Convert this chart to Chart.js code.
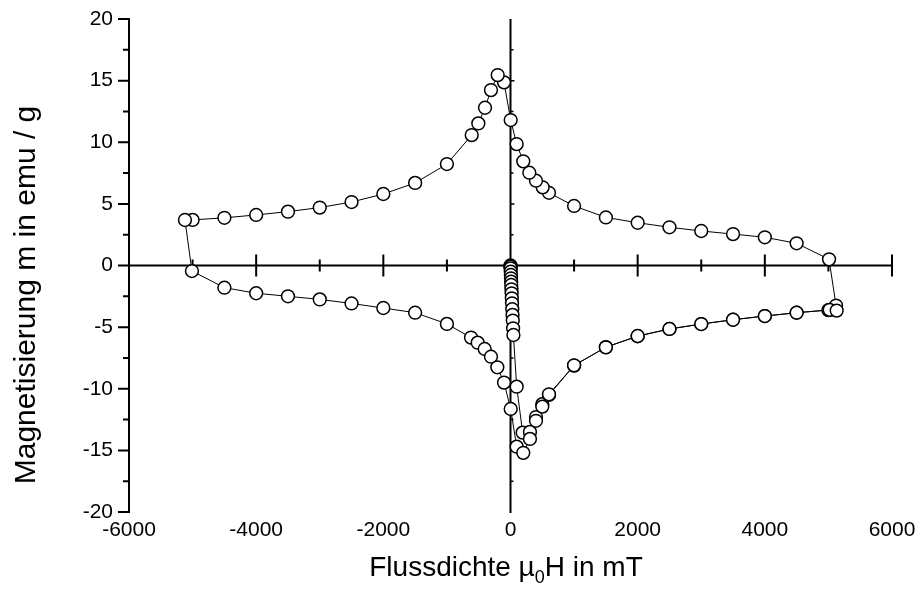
<!DOCTYPE html>
<html>
<head>
<meta charset="utf-8">
<script src="https://cdn.jsdelivr.net/npm/chart.js@4.4.1/dist/chart.umd.min.js"></script>
<style>
  html, body { margin: 0; padding: 0; background: #fff; }
  #wrap { width: 920px; height: 590px; position: relative; }
</style>
</head>
<body>
<div id="wrap"><canvas id="loopChart"></canvas></div>
<script>
// Neukurve (virgin curve), field in mT, moment in emu/g
const virginField = [0, 0, 1, 2, 4, 6, 8, 10, 12, 15, 18, 21, 24, 28, 32, 36, 41, 46,
  97, 191, 306, 401, 500, 605, 1000, 1500, 2000, 2500, 3000, 3500, 4000, 4500, 5000, 5120];
const virginMoment = [0, -0.05, -0.1, -0.23, -0.5, -0.77, -1.04, -1.31, -1.58, -1.93, -2.26, -2.66, -3.07, -3.55, -4.01, -4.47, -5.1, -5.64,
  -9.83, -13.56, -13.5, -12.3, -11.25, -10.5, -8.12, -6.62, -5.74, -5.15, -4.75, -4.4, -4.1, -3.83, -3.62, -3.25];

// Ast 5 T -> -5 T
const downField = [5010, 4500, 4000, 3500, 3000, 2500, 2000, 1500, 1000, 605, 506, 401, 296, 201, 97, 3,
  -102, -201, -307, -401, -506, -610, -1000, -1500, -2000, -2500, -3000, -3500, -4000, -4500, -5000, -5120];
const downMoment = [0.5, 1.8, 2.29, 2.55, 2.8, 3.1, 3.47, 3.9, 4.83, 5.9, 6.34, 6.88, 7.53, 8.45, 9.85, 11.8,
  14.86, 15.45, 14.23, 12.8, 11.53, 10.58, 8.23, 6.7, 5.8, 5.15, 4.7, 4.37, 4.1, 3.87, 3.7, 3.69];

// Ast -5 T -> 5 T
const upField = [-5010, -4500, -4000, -3500, -3000, -2500, -2000, -1500, -1000, -621, -516, -406, -307, -207, -102, 3,
  97, 201, 306, 401, 500, 605, 1000, 1500, 2000, 2500, 3000, 3500, 4000, 4500, 5020, 5130];
const upMoment = [-0.45, -1.8, -2.25, -2.5, -2.75, -3.08, -3.45, -3.83, -4.74, -5.85, -6.26, -6.77, -7.4, -8.26, -9.5, -11.64,
  -14.7, -15.2, -14.07, -12.6, -11.45, -10.45, -8.1, -6.64, -5.72, -5.15, -4.75, -4.4, -4.1, -3.83, -3.6, -3.66];

const xTicks = [-6000, -4000, -2000, 0, 2000, 4000, 6000];
const yTicks = [-20, -15, -10, -5, 0, 5, 10, 15, 20];

const FONT = '"Liberation Sans", Arial, sans-serif';

function toPoints(xs, ys) {
  return xs.map((v, i) => ({ x: v, y: ys[i] }));
}
const loopPoints = toPoints(virginField, virginMoment)
  .concat(toPoints(downField, downMoment))
  .concat(toPoints(upField, upMoment));

// axes like in the Origin plot: left axis plus cross through the origin
const axesPlugin = {
  id: "crossAxes",
  beforeDatasetsDraw(chart) {
    const ctx = chart.ctx;
    const xs = chart.scales.x, ys = chart.scales.y;
    const left = xs.getPixelForValue(-6000), right = xs.getPixelForValue(6000);
    const top = ys.getPixelForValue(20), bottom = ys.getPixelForValue(-20);
    const x0 = xs.getPixelForValue(0), y0 = ys.getPixelForValue(0);

    ctx.save();
    ctx.strokeStyle = "#000";
    ctx.lineWidth = 2;
    ctx.beginPath();
    // left axis
    ctx.moveTo(left, top - 1); ctx.lineTo(left, bottom + 1);
    // horizontal line at m = 0
    ctx.moveTo(left, y0); ctx.lineTo(right + 1, y0);
    // vertical line at H = 0
    ctx.moveTo(x0, top); ctx.lineTo(x0, bottom + 1);

    // ticks on left axis
    for (let v = -20; v <= 20; v += 2.5) {
      const py = ys.getPixelForValue(v);
      const len = (v % 5 === 0) ? 11 : 6;
      ctx.moveTo(left - len, py); ctx.lineTo(left, py);
    }
    // ticks across the horizontal zero line
    for (let v = -5000; v <= 6000; v += 1000) {
      if (v === 0) continue;
      const px = xs.getPixelForValue(v);
      const len = (v % 2000 === 0) ? 11 : 6;
      ctx.moveTo(px, y0 - len); ctx.lineTo(px, y0 + len);
    }
    ctx.stroke();

    // small ticks on the vertical zero line
    ctx.lineWidth = 1.5;
    ctx.beginPath();
    for (let v = -17.5; v <= 17.5; v += 2.5) {
      if (v === 0) continue;
      const py = ys.getPixelForValue(v);
      const len = (v % 5 === 0) ? 4 : 3;
      ctx.moveTo(x0, py); ctx.lineTo(x0 + len, py);
    }
    ctx.stroke();
    ctx.restore();
  },
  afterDraw(chart) {
    const ctx = chart.ctx;
    ctx.save();
    ctx.fillStyle = "#000";
    ctx.textBaseline = "middle";

    // x title with subscript
    const big = "28px " + FONT, small = "18px " + FONT;
    const partA = "Flussdichte \u00B5", sub = "0", partB = "H in mT";
    ctx.font = big;
    const wA = ctx.measureText(partA).width, wB = ctx.measureText(partB).width;
    ctx.font = small;
    const wS = ctx.measureText(sub).width;
    let tx = 506 - (wA + wS + wB) / 2;
    const ty = 568;
    ctx.textAlign = "left";
    ctx.font = big;
    ctx.fillText(partA, tx, ty);
    tx += wA;
    ctx.font = small;
    ctx.fillText(sub, tx, ty + 10);
    tx += wS;
    ctx.font = big;
    ctx.fillText(partB, tx, ty);

    // y title
    ctx.translate(27, 295);
    ctx.rotate(-Math.PI / 2);
    ctx.textAlign = "center";
    ctx.font = "30px " + FONT;
    ctx.fillText("Magnetisierung m in emu / g", 0, 0);
    ctx.restore();
  }
};

const chart = new Chart(document.getElementById("loopChart"), {
  type: "scatter",
  data: {
    datasets: [{
      data: loopPoints,
      showLine: true,
      borderColor: "#000",
      borderWidth: 1,
      pointRadius: 6.4,
      pointBackgroundColor: "#fff",
      pointBorderColor: "#000",
      pointBorderWidth: 1.5,
      tension: 0
    }]
  },
  options: {
    responsive: true,
    maintainAspectRatio: false,
    animation: false,
    layout: { autoPadding: false, padding: { top: 19, right: 28, left: 0, bottom: 0 } },
    plugins: {
      legend: { display: false },
      tooltip: { enabled: false }
    },
    scales: {
      x: {
        type: "linear",
        min: -6000,
        max: 6000,
        afterFit(scale) {
          scale.height = 78;
          scale.paddingLeft = 0; scale.paddingRight = 0;
        },
        afterBuildTicks(scale) { scale.ticks = xTicks.map(v => ({ value: v })); },
        grid: { display: false, drawTicks: false },
        border: { display: false },
        ticks: {
          color: "#000",
          padding: 6,
          maxRotation: 0,
          callback: v => String(v),
          font: { family: FONT, size: 21 }
        }
      },
      y: {
        type: "linear",
        min: -20,
        max: 20,
        afterFit(scale) {
          scale.width = 129;
          scale.paddingTop = 0; scale.paddingBottom = 0;
        },
        afterBuildTicks(scale) { scale.ticks = yTicks.map(v => ({ value: v })); },
        grid: { display: false, drawTicks: false },
        border: { display: false },
        ticks: {
          color: "#000",
          padding: 16,
          callback: v => String(v),
          font: { family: FONT, size: 21 }
        }
      }
    }
  },
  plugins: [axesPlugin]
});
</script>
</body>
</html>
